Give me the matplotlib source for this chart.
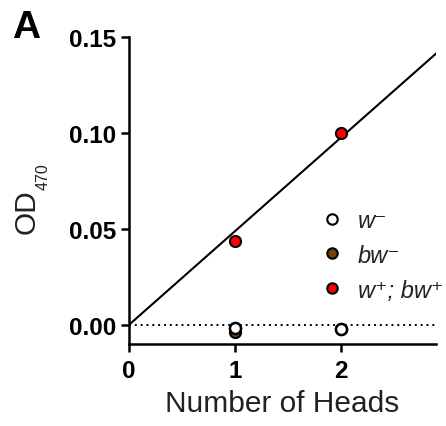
import numpy as np
import matplotlib
matplotlib.use("Agg")
import matplotlib.pyplot as plt
from matplotlib.lines import Line2D

plt.rcParams['font.family'] = ['Liberation Sans', 'DejaVu Sans']

heads = [1, 2]
w_minus = [-0.0015, -0.002]
bw_minus = [-0.0035, -0.002]
wbw_plus = [0.0437, 0.100]

labels = ["w\u207b", "bw\u207b", "w\u207a; bw\u207a"]
colors = ["white", "#7a3f0a", "#ff0000"]

xticks = [0, 1, 2]
yticks = [0.00, 0.05, 0.10, 0.15]
ytick_labels = ["0.00", "0.05", "0.10", "0.15"]

fig = plt.figure(figsize=(4.46, 4.27), dpi=100)
ax = fig.add_axes([129/446, 82/427, (436-129)/446, (389-82)/427])
ax.set_xlim(0, 2.9)
ax.set_ylim(-0.01, 0.15)

# regression through origin
x = np.array(heads, float)
y = np.array(wbw_plus)
slope = np.sum(x*y)/np.sum(x*x)
xl = np.array([0, 2.9])
ax.plot(xl, slope*xl, color='black', lw=1.5, zorder=2)
ax.plot([0, 2.9], [0, 0], color='black', lw=1.4, ls=(0, (1, 2)), zorder=1)

ms = 8
ax.plot(heads, bw_minus, 'o', ms=ms, mfc=colors[1], mec='black', mew=1.5, zorder=3, clip_on=False)
ax.plot(heads, w_minus, 'o', ms=ms, mfc=colors[0], mec='black', mew=1.8, zorder=4, clip_on=False)
ax.plot(heads, wbw_plus, 'o', ms=ms, mfc=colors[2], mec='black', mew=1.5, zorder=4, clip_on=False)

handles = [Line2D([], [], ls='none', marker='o', ms=ms-0.5, mfc=c, mec='black', mew=1.5) for c in colors]
leg = ax.legend(handles, labels, frameon=False, loc='upper left', bbox_to_anchor=(0.622, 0.44),
                prop={'size': 17, 'style': 'italic'}, handletextpad=0.6, labelspacing=0.5,
                handlelength=1.0, borderaxespad=0, borderpad=0)
for t in leg.get_texts():
    t.set_color('#222222')

for s in ['top', 'right']:
    ax.spines[s].set_visible(False)
for s in ['left', 'bottom']:
    ax.spines[s].set_linewidth(1.8)

ax.set_xticks(xticks)
ax.set_xticklabels([str(t) for t in xticks], fontweight='bold', fontsize=17.5)
ax.set_yticks(yticks)
ax.set_yticklabels(ytick_labels, fontweight='bold', fontsize=17.5)
ax.tick_params(axis='both', length=6, width=1.8, direction='out')
ax.tick_params(axis='x', pad=5)
ax.tick_params(axis='y', pad=3)

ax.set_xlabel("Number of Heads", fontsize=21.5, color='#222222', labelpad=5)

# y label: OD with small subscript 470
fig.text(27/446, 1-212/427, "OD", rotation=90, fontsize=21.5, color='#222222', ha='center', va='center')
fig.text(36/446, 1-177/427, "470", rotation=90, fontsize=11.5, color='#222222', ha='left', va='center')

fig.text(12/446, 1-38/427, "A", fontsize=28, fontweight='bold', ha='left', va='baseline')

fig.savefig("out.png", dpi=100)
